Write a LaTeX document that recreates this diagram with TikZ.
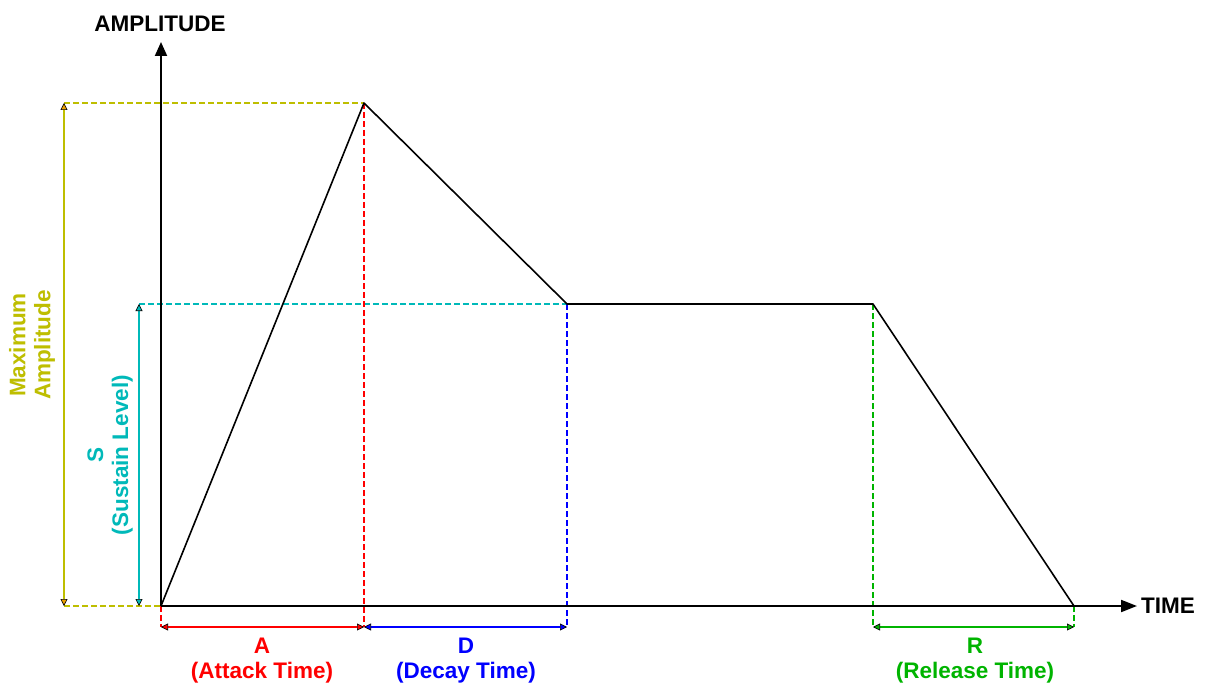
\documentclass[tikz,border=0pt]{standalone}
\usepackage{fontspec}
\setmainfont{Liberation Sans}
\usetikzlibrary{arrows.meta}
\definecolor{olivec}{RGB}{190,190,0}
\definecolor{orangec}{RGB}{235,160,0}
\definecolor{cyanc}{RGB}{0,185,185}
\definecolor{redc}{RGB}{255,0,0}
\definecolor{bluec}{RGB}{0,0,255}
\definecolor{greenc}{RGB}{0,180,0}
\tikzset{
  axisline/.style={line width=2pt,black},
  env/.style={line width=1.6pt,black},
  guide/.style={line width=1.4pt,dash pattern=on 6pt off 3pt},
  dimarrow/.style 2 args={line width=1.4pt,draw=#1,
    {Triangle[length=7pt,width=7pt,fill=#2,color=black,line width=0.6pt]}-{Triangle[length=7pt,width=7pt,fill=#2,color=black,line width=0.6pt]}},
  lbl/.style={font=\fontsize{22.5}{25}\selectfont\bfseries,align=center,inner sep=0pt}
}
\begin{document}
\begin{tikzpicture}[x=1pt,y=-1pt]
\useasboundingbox[fill=white] (0,0) rectangle (1205,687);
% key points
\coordinate (O) at (161,606);
\coordinate (P) at (364,103);
\coordinate (S1) at (567,304);
\coordinate (S2) at (873,304);
\coordinate (E) at (1074,606);
\coordinate (ytop) at (161,42);
\coordinate (xend) at (1137,606);
\coordinate (M1) at (64,103);
\coordinate (M0) at (64,606);
\coordinate (C1) at (139,304);
\coordinate (C0) at (139,606);
\coordinate (a0) at (161,627);
\coordinate (a1) at (364,627);
\coordinate (d1) at (567,627);
\coordinate (r0) at (873,627);
\coordinate (r1) at (1074,627);
% guides
\draw[guide,olivec] (M1) -- (P);
\draw[guide,olivec] (M0) -- (O);
\draw[guide,cyanc] (C1) -- (S1);
\draw[guide,redc] (P) -- (a1);
\draw[guide,redc] (O) -- (a0);
\draw[guide,bluec] (S1) -- (d1);
\draw[guide,greenc] (S2) -- (r0);
\draw[guide,greenc] (E) -- (r1);
% dimension arrows
\draw[dimarrow={olivec}{orangec}] (M1) -- (M0);
\draw[dimarrow={cyanc}{cyanc}] (C1) -- (C0);
\draw[dimarrow={redc}{redc}] (a0) -- (a1);
\draw[dimarrow={bluec}{bluec}] (a1) -- (d1);
\draw[dimarrow={greenc}{greenc}] (r0) -- (r1);
% axes
\draw[axisline,-{Triangle[length=14pt,width=12pt]}] (O) -- (ytop);
\draw[axisline,-{Triangle[length=16pt,width=12pt]}] (O) -- (xend);
\node[lbl,anchor=south] (amp) at (160,32) {AMPLITUDE};
\node[lbl,anchor=west] (time) at (1141,606) {TIME};
% envelope
\draw[env,line join=round] (O) -- (P) -- (S1) -- (S2) -- (E);
% labels
\node[lbl,text=redc] (alab) at (262,661) {A\\(Attack Time)};
\node[lbl,text=bluec] (dlab) at (466,661) {D\\(Decay Time)};
\node[lbl,text=greenc] (rlab) at (975,661) {R\\(Release Time)};
\node[lbl,text=olivec,rotate=90] (mlab) at (32,345) {Maximum\\Amplitude};
\node[lbl,text=cyanc,rotate=90] (slab) at (110,455) {S\\(Sustain Level)};
\end{tikzpicture}
\end{document}
